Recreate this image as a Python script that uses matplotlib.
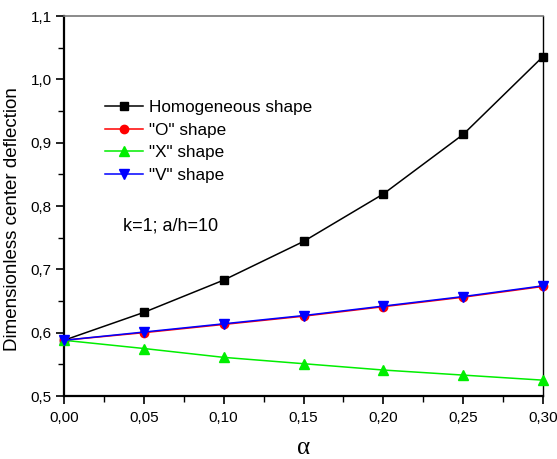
import matplotlib
matplotlib.use("Agg")
import matplotlib.pyplot as plt
from matplotlib.ticker import MultipleLocator, FuncFormatter

plt.rcParams['font.family'] = ['Liberation Sans', 'DejaVu Sans']

alpha = [0.00, 0.05, 0.10, 0.15, 0.20, 0.25, 0.30]
homogeneous = [0.588, 0.632, 0.683, 0.744, 0.819, 0.913, 1.036]
o_shape = [0.588, 0.600, 0.613, 0.626, 0.641, 0.656, 0.673]
x_shape = [0.588, 0.575, 0.561, 0.551, 0.541, 0.533, 0.525]
v_shape = [0.588, 0.601, 0.614, 0.627, 0.642, 0.657, 0.674]

fig = plt.figure(figsize=(5.57, 4.59), dpi=100)
ax = fig.add_axes([64/557, 1 - 396/459, (543-64)/557, (396-16)/459])

ax.plot(alpha, homogeneous, color='black', marker='s', ms=6, lw=1.1, label='Homogeneous shape', clip_on=False, zorder=3)
ax.plot(alpha, o_shape, color='red', marker='o', ms=6, lw=1.1, label='"O" shape', clip_on=False, zorder=3)
ax.plot(alpha, x_shape, color='#00ee00', marker='^', ms=7, lw=1.1, label='"X" shape', clip_on=False, zorder=3)
ax.plot(alpha, v_shape, color='blue', marker='v', ms=7, lw=1.1, label='"V" shape', clip_on=False, zorder=4)

ax.set_xlim(0, 0.30)
ax.set_ylim(0.5, 1.1)
ax.xaxis.set_major_locator(MultipleLocator(0.05))
ax.xaxis.set_minor_locator(MultipleLocator(0.025))
ax.yaxis.set_major_locator(MultipleLocator(0.1))
ax.yaxis.set_minor_locator(MultipleLocator(0.05))
ax.xaxis.set_major_formatter(FuncFormatter(lambda v, p: f"{v:.2f}".replace('.', ',')))
ax.yaxis.set_major_formatter(FuncFormatter(lambda v, p: f"{v:.1f}".replace('.', ',')))
ax.tick_params(which='major', direction='out', length=6, width=1.2, labelsize=11)
ax.tick_params(axis='x', which='major', pad=5)
ax.tick_params(axis='y', which='major', pad=3)
ax.tick_params(which='minor', direction='out', length=4, width=1.0)

for side in ['left', 'bottom']:
    ax.spines[side].set_linewidth(1.6)
ax.spines['top'].set_color('#777777')
ax.spines['top'].set_linewidth(1.2)
ax.spines['right'].set_linewidth(1.0)

ax.set_xlabel('α', fontsize=18, family=['Liberation Serif', 'DejaVu Serif'], va='baseline')
ax.xaxis.set_label_coords(0.5, (396 - 454) / 380)
ax.set_ylabel('Dimensionless center deflection', fontsize=13.5)
ax.yaxis.set_label_coords((21 - 64) / 479, (396 - 219) / 380)

ax.legend(loc='upper left', bbox_to_anchor=(41/479, 1 - (100 - 16)/380), frameon=False, fontsize=12.3,
          handlelength=2.2, handletextpad=0.35, labelspacing=0.45, borderaxespad=0, borderpad=0)
ax.text((123 - 64)/479, 1 - (226 - 16)/380, 'k=1; a/h=10', transform=ax.transAxes, fontsize=13, va='center')

fig.savefig('out.png', dpi=100)
